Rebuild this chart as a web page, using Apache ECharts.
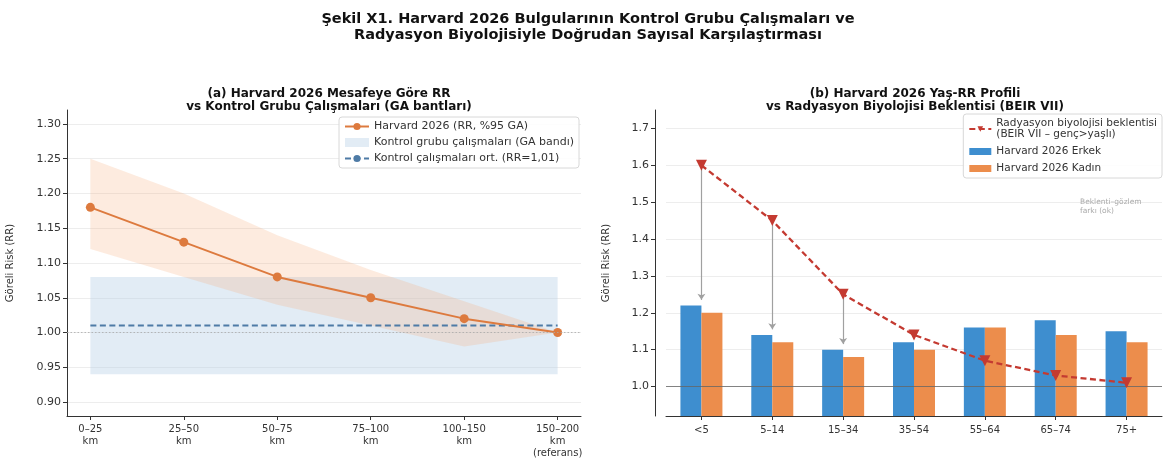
<!DOCTYPE html>
<html><head><meta charset="utf-8">
<script src="https://cdn.jsdelivr.net/npm/echarts@6/dist/echarts.min.js"></script>
<style>html,body{margin:0;padding:0;background:#fff}#c{width:1166px;height:463px}</style>
</head><body><div id="c"></div>
<script>
// ---- Data ----
const distCats = ['0–25\nkm', '25–50\nkm', '50–75\nkm', '75–100\nkm', '100–150\nkm', '150–200\nkm\n(referans)'];
const harvardRR = [1.18, 1.13, 1.08, 1.05, 1.02, 1.00];
const ciLower = [1.12, 1.08, 1.04, 1.01, 0.98, 1.00];
const ciUpper = [1.25, 1.20, 1.14, 1.09, 1.045, 1.00];
const ctrlLow = 0.94, ctrlHigh = 1.08, ctrlMean = 1.01;
const yTicksA = [0.90, 0.95, 1.00, 1.05, 1.10, 1.15, 1.20, 1.25, 1.30];

const ageCats = ['<5', '5–14', '15–34', '35–54', '55–64', '65–74', '75+'];
const maleRR = [1.22, 1.14, 1.10, 1.12, 1.16, 1.18, 1.15];
const femaleRR = [1.20, 1.12, 1.08, 1.10, 1.16, 1.14, 1.12];
const beirRR = [1.60, 1.45, 1.25, 1.14, 1.07, 1.03, 1.01];
const arrowCats = [0, 1, 2];
const arrowEnds = [1.235, 1.155, 1.115];
const yTicksB = [1.0, 1.1, 1.2, 1.3, 1.4, 1.5, 1.6, 1.7];

const F = 'DejaVu Sans';
const xIdx = distCats.map((_, i) => i);
const lastIdx = xIdx.length - 1;

const chart = echarts.init(document.getElementById('c'), null, {renderer: 'canvas'});
const gridLine = {show: true, lineStyle: {color: '#e9e9e9', width: 0.8}};

const option = {
  backgroundColor: '#fff',
  animation: false,
  textStyle: {fontFamily: F},
  title: [
    {text: 'Şekil X1. Harvard 2026 Bulgularının Kontrol Grubu Çalışmaları ve\nRadyasyon Biyolojisiyle Doğrudan Sayısal Karşılaştırması',
     left: 583, textAlign: 'center', top: 6,
     textStyle: {fontFamily: F, fontSize: 14.5, fontWeight: 'bold', color: '#111', lineHeight: 16}},
    {text: '(a) Harvard 2026 Mesafeye Göre RR\nvs Kontrol Grubu Çalışmaları (GA bantları)',
     left: 324, textAlign: 'center', top: 82,
     textStyle: {fontFamily: F, fontSize: 12, fontWeight: 'bold', color: '#111', lineHeight: 13}},
    {text: '(b) Harvard 2026 Yaş-RR Profili\nvs Radyasyon Biyolojisi Beklentisi (BEIR VII)',
     left: 910, textAlign: 'center', top: 82,
     textStyle: {fontFamily: F, fontSize: 12, fontWeight: 'bold', color: '#111', lineHeight: 13}},
    {text: 'Beklenti–gözlem\nfarkı (ok)', left: 1075, top: 193,
     textStyle: {fontFamily: F, fontSize: 7.5, fontWeight: 'normal', color: '#aaa', lineHeight: 9}}
  ],
  legend: [
    {orient: 'vertical', right: 587, top: 117,
     data: [
       {name: 'Harvard 2026 (RR, %95 GA)'},
       {name: 'Kontrol grubu çalışmaları (GA bandı)', icon: 'rect'},
       {name: 'Kontrol çalışmaları ort. (RR=1,01)'}
     ],
     itemWidth: 24, itemHeight: 9, itemGap: 5,
     backgroundColor: 'rgba(255,255,255,0.85)', borderColor: '#d8d8d8', borderWidth: 1, borderRadius: 3,
     padding: [4, 5, 4, 5],
     textStyle: {fontFamily: F, fontSize: 11, color: '#333'}},
    {orient: 'vertical', right: 4, top: 114,
     data: [
       {name: 'Radyasyon biyolojisi beklentisi\n(BEIR VII – genç>yaşlı)'},
       {name: 'Harvard 2026 Erkek', icon: 'rect'},
       {name: 'Harvard 2026 Kadın', icon: 'rect'}
     ],
     itemWidth: 22, itemHeight: 7, itemGap: 6,
     backgroundColor: 'rgba(255,255,255,0.85)', borderColor: '#d8d8d8', borderWidth: 1, borderRadius: 3,
     padding: [4, 5, 4, 5],
     textStyle: {fontFamily: F, fontSize: 10.5, color: '#333', lineHeight: 11}}
  ],
  grid: [
    {left: 67, right: 585, top: 110, bottom: 47, containLabel: false},
    {left: 666, right: 4, top: 110, bottom: 47, containLabel: false}
  ],
  xAxis: [
    {gridIndex: 0, type: 'value', min: -0.25, max: 5.25,
     axisLine: {show: true, onZero: false, lineStyle: {color: '#333', width: 1}},
     axisTick: {show: true, length: 4, lineStyle: {color: '#333'}, customValues: xIdx},
     axisLabel: {customValues: xIdx, formatter: v => distCats[Math.round(v)], fontFamily: F, fontSize: 10, color: '#333', lineHeight: 12, margin: 7},
     splitLine: {show: false}},
    {gridIndex: 1, type: 'category', data: ageCats, boundaryGap: true,
     axisLine: {show: true, onZero: false, lineStyle: {color: '#333', width: 1}},
     axisTick: {show: true, alignWithLabel: true, length: 4, lineStyle: {color: '#333'}},
     axisLabel: {fontFamily: F, fontSize: 10, color: '#333', margin: 9},
     splitLine: {show: false}}
  ],
  yAxis: [
    {gridIndex: 0, type: 'value', min: 0.88, max: 1.32,
     name: 'Göreli Risk (RR)', nameLocation: 'middle', nameGap: 52, nameRotate: 90,
     nameTextStyle: {fontFamily: F, fontSize: 10, color: '#333'},
     axisLine: {show: true, onZero: false, lineStyle: {color: '#333', width: 1}},
     axisTick: {show: true, length: 4, lineStyle: {color: '#333'}, customValues: yTicksA},
     axisLabel: {customValues: yTicksA, formatter: v => v.toFixed(2), fontFamily: F, fontSize: 11, color: '#333', margin: 6},
     splitLine: gridLine},
    {gridIndex: 1, type: 'value', min: 0.92, max: 1.75, offset: 11,
     name: 'Göreli Risk (RR)', nameLocation: 'middle', nameGap: 44, nameRotate: 90,
     nameTextStyle: {fontFamily: F, fontSize: 10, color: '#333'},
     axisLine: {show: true, onZero: false, lineStyle: {color: '#333', width: 1}},
     axisTick: {show: true, length: 4, lineStyle: {color: '#333'}, customValues: yTicksB},
     axisLabel: {customValues: yTicksB, formatter: v => v.toFixed(1), fontFamily: F, fontSize: 11, color: '#333', margin: 6},
     splitLine: gridLine}
  ],
  series: [
    {name: 'Kontrol grubu çalışmaları (GA bandı)', type: 'custom', xAxisIndex: 0, yAxisIndex: 0, z: 1,
     itemStyle: {color: 'rgba(180,204,228,0.38)'},
     data: [[0, ctrlLow, ctrlHigh]],
     encode: {x: 0, y: [1, 2]},
     renderItem: function (params, api) {
       const p1 = api.coord([xIdx[0], ctrlHigh]);
       const p2 = api.coord([xIdx[lastIdx], ctrlLow]);
       return {type: 'rect', shape: {x: p1[0], y: p1[1], width: p2[0] - p1[0], height: p2[1] - p1[1]},
               style: {fill: 'rgba(180,204,228,0.38)'}};
     }},
    {name: 'CI', type: 'custom', xAxisIndex: 0, yAxisIndex: 0, z: 2, silent: true,
     data: xIdx.map(i => [i, ciLower[i], ciUpper[i]]),
     encode: {x: 0, y: [1, 2]},
     renderItem: function (params, api) {
       if (params.dataIndex !== 0) return null;
       const pts = [];
       for (let i = 0; i < xIdx.length; i++) pts.push(api.coord([xIdx[i], ciUpper[i]]));
       for (let i = xIdx.length - 1; i >= 0; i--) pts.push(api.coord([xIdx[i], ciLower[i]]));
       return {type: 'polygon', shape: {points: pts}, style: {fill: 'rgba(246,170,120,0.24)'}};
     }},
    {name: 'Kontrol çalışmaları ort. (RR=1,01)', type: 'line', xAxisIndex: 0, yAxisIndex: 0, z: 3,
     data: [[xIdx[0], ctrlMean], [xIdx[lastIdx], ctrlMean]],
     symbol: 'none', color: '#4e7ba6',
     lineStyle: {color: '#4e7ba6', width: 2, type: [6, 3.5]},
     markLine: {silent: true, symbol: 'none', label: {show: false},
       lineStyle: {color: '#aaaaaa', width: 0.8, type: [1.5, 2]},
       data: [{yAxis: 1.0}]}},
    {name: 'Harvard 2026 (RR, %95 GA)', type: 'line', xAxisIndex: 0, yAxisIndex: 0, z: 4,
     data: xIdx.map(i => [i, harvardRR[i]]),
     symbol: 'circle', symbolSize: 9, color: '#dd7a3e',
     itemStyle: {color: '#dd7a3e'},
     lineStyle: {color: '#dd7a3e', width: 2}},
    {name: 'Harvard 2026 Erkek', type: 'bar', xAxisIndex: 1, yAxisIndex: 1,
     data: maleRR, barWidth: 21, barGap: '0%', color: '#3e8ecf', itemStyle: {color: '#3e8ecf'}, z: 2,
     markLine: {silent: true, symbol: 'none', label: {show: false},
       lineStyle: {color: '#666', width: 0.8, type: 'solid'},
       data: [{yAxis: 1.0}]}},
    {name: 'Harvard 2026 Kadın', type: 'bar', xAxisIndex: 1, yAxisIndex: 1,
     data: femaleRR, barWidth: 21, barGap: '0%', color: '#ec8d4c', itemStyle: {color: '#ec8d4c'}, z: 2},
    {name: 'Radyasyon biyolojisi beklentisi\n(BEIR VII – genç>yaşlı)', type: 'line', xAxisIndex: 1, yAxisIndex: 1, z: 5,
     data: beirRR, symbol: 'triangle', symbolRotate: 180, symbolSize: 11,
     color: '#c43a31', itemStyle: {color: '#c43a31'},
     lineStyle: {color: '#c43a31', width: 2.3, type: [6, 3.5]},
     markLine: {silent: true, symbol: ['none', 'arrow'], symbolSize: 6, label: {show: false},
       lineStyle: {color: '#a0a0a0', width: 1.2, type: 'solid'},
       data: arrowCats.map((c, k) => [{coord: [c, beirRR[c]]}, {coord: [c, arrowEnds[k]]}])}}
  ]
};
chart.setOption(option);
</script>
</body></html>
